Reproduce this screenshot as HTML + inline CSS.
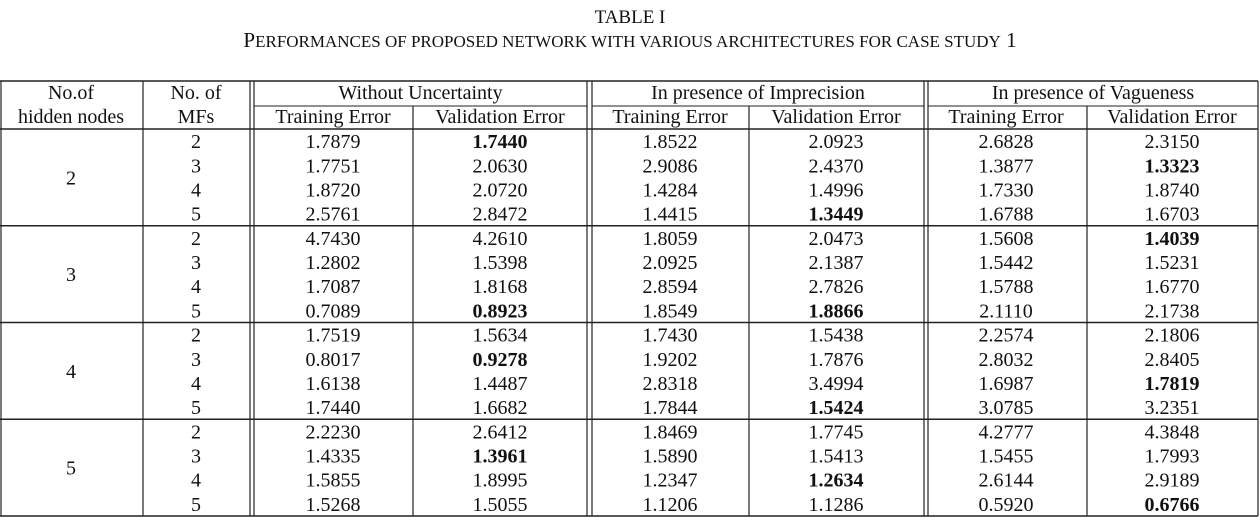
<!DOCTYPE html>
<html><head><meta charset="utf-8">
<style>
html,body{margin:0;padding:0;background:#fff;}
svg{display:block;font-family:"Liberation Serif",serif;}
</style></head>
<body>
<svg id="t" width="1260" height="527" viewBox="0 0 1260 527">
<text x="630" y="23" font-size="19" text-anchor="middle" fill="#111">TABLE I</text>
<text x="630" y="47" font-size="21" text-anchor="middle" fill="#111">P<tspan font-size="17">ERFORMANCES OF PROPOSED NETWORK WITH VARIOUS ARCHITECTURES FOR CASE STUDY</tspan> 1</text>
</svg>
<script>
const hiddenNodes=["2","3","4","5"];
const mfs=["2","3","4","5"];
const groups=["Without Uncertainty","In presence of Imprecision","In presence of Vagueness"];
const values=[
["1.7879","1.7440","1.8522","2.0923","2.6828","2.3150"],
["1.7751","2.0630","2.9086","2.4370","1.3877","1.3323"],
["1.8720","2.0720","1.4284","1.4996","1.7330","1.8740"],
["2.5761","2.8472","1.4415","1.3449","1.6788","1.6703"],
["4.7430","4.2610","1.8059","2.0473","1.5608","1.4039"],
["1.2802","1.5398","2.0925","2.1387","1.5442","1.5231"],
["1.7087","1.8168","2.8594","2.7826","1.5788","1.6770"],
["0.7089","0.8923","1.8549","1.8866","2.1110","2.1738"],
["1.7519","1.5634","1.7430","1.5438","2.2574","2.1806"],
["0.8017","0.9278","1.9202","1.7876","2.8032","2.8405"],
["1.6138","1.4487","2.8318","3.4994","1.6987","1.7819"],
["1.7440","1.6682","1.7844","1.5424","3.0785","3.2351"],
["2.2230","2.6412","1.8469","1.7745","4.2777","4.3848"],
["1.4335","1.3961","1.5890","1.5413","1.5455","1.7993"],
["1.5855","1.8995","1.2347","1.2634","2.6144","2.9189"],
["1.5268","1.5055","1.1206","1.1286","0.5920","0.6766"]];
const bold=[[0,1],[1,5],[3,3],[4,5],[7,1],[7,3],[9,1],[10,5],[11,3],[13,1],[14,3],[15,5]];
const svg=document.getElementById('t');
const NS="http://www.w3.org/2000/svg";
function line(x1,y1,x2,y2,w,name){const l=document.createElementNS(NS,'line');l.setAttribute('x1',x1);l.setAttribute('y1',y1);l.setAttribute('x2',x2);l.setAttribute('y2',y2);l.setAttribute('stroke','#222');l.setAttribute('stroke-width',w);


svg.appendChild(l);}
function text(x,y,s,b,name){const t=document.createElementNS(NS,'text');t.setAttribute('x',x);t.setAttribute('y',y);t.setAttribute('font-size','20');t.setAttribute('text-anchor','middle');t.setAttribute('fill','#111');if(b)t.setAttribute('font-weight','bold');t.textContent=s;


svg.appendChild(t);}
const top0=81,sub=106,hb=129,bot=516,gh=(bot-hb)/4,rh=gh/4;
const colX=[333,500,670,836,1006,1172];
const gL=[254,592,928],gR=[587,924,1258],divX=[413,749,1087];
line(0,top0,1258,top0,1.5,'top-rule');
for(let g=0;g<3;g++)line(gL[g],sub,gR[g],sub,1,'group-rule');
line(0,hb,1258,hb,1.5,'header-rule');
for(let i=1;i<4;i++)line(0,hb+gh*i,1258,hb+gh*i,1.5,'group-separator');
line(0,bot,1258,bot,1.5,'bottom-rule');
line(1,top0,1,bot,1.2,'left-border');
line(1258,top0,1258,bot,1.2,'right-border');
line(143,top0,143,bot,1.2,'col-divider');
[[250,254],[587,592],[924,928]].forEach(p=>{line(p[0],top0,p[0],bot,1.2,'double-divider');line(p[1],top0,p[1],bot,1.2,'double-divider');});
divX.forEach(x=>line(x,sub,x,bot,1.2,'sub-divider'));
text(71,99,'No.of',false,'header-hidden-nodes');
text(71,123,'hidden nodes',false,'header-hidden-nodes');
text(196,99,'No. of',false,'header-mfs');
text(196,123,'MFs',false,'header-mfs');
groups.forEach((g,i)=>{text((gL[i]+gR[i])/2,99,g,false,'group-header');
text(colX[2*i],123,'Training Error',false,'training-error-header');
text(colX[2*i+1],123,'Validation Error',false,'validation-error-header');});
hiddenNodes.forEach((h,gi)=>{text(71,hb+gh*gi+gh/2+7,h,false,'hidden-nodes-cell');});
values.forEach((row,ri)=>{const gi=Math.floor(ri/4),k=ri%4;const y=hb+gh*gi+rh*k+rh/2+7;
text(196,y,mfs[k],false,'mfs-cell');
row.forEach((v,ci)=>{const b=bold.some(p=>p[0]==ri&&p[1]==ci);text(colX[ci],y,v,b,'error-cell');});});
</script>
</body></html>
